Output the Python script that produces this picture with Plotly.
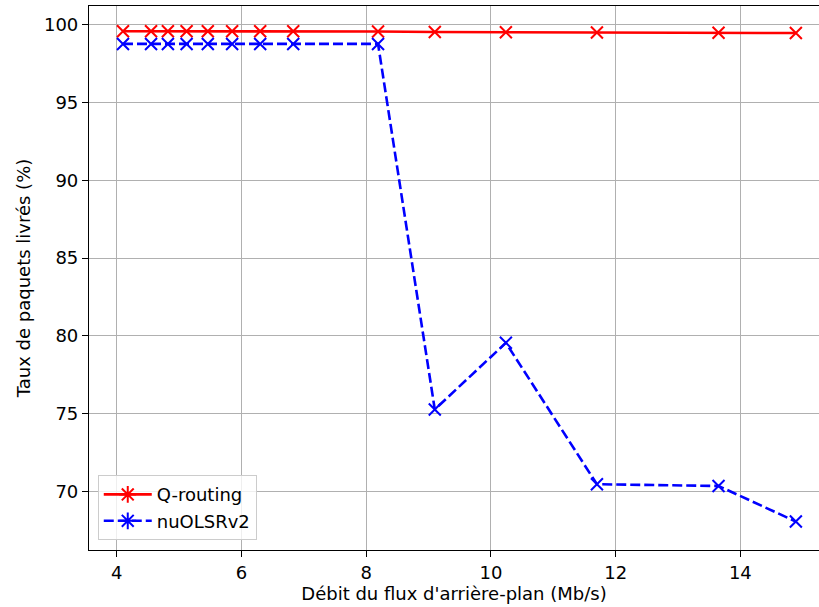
import plotly.graph_objects as go

debit = [4.10, 4.55, 4.82, 5.12, 5.46, 5.85, 6.30, 6.83, 8.19, 9.10, 10.24, 11.70, 13.65, 14.89]
q_routing = [99.60, 99.60, 99.60, 99.60, 99.60, 99.59, 99.59, 99.59, 99.58, 99.55, 99.53, 99.52, 99.50, 99.48]
nuolsrv2 = [98.78, 98.78, 98.78, 98.78, 98.78, 98.78, 98.78, 98.78, 98.78, 75.26, 79.55, 70.45, 70.34, 68.05]
x_ticks = [4, 6, 8, 10, 12, 14]
y_ticks = [70, 75, 80, 85, 90, 95, 100]

FONT = "DejaVu Sans"
FS = 18
fig = go.Figure()

fig.add_trace(go.Scatter(x=debit, y=q_routing, mode="lines+markers", name="Q-routing",
                         showlegend=False,
                         line=dict(color="#ff0000", width=2.6),
                         marker=dict(symbol="x-thin-open", size=12, line=dict(color="#ff0000", width=2))))
fig.add_trace(go.Scatter(x=debit, y=nuolsrv2, mode="lines+markers", name="nuOLSRv2",
                         showlegend=False,
                         line=dict(color="#0000ff", width=2.6, dash="10px,4px"),
                         marker=dict(symbol="x-thin-open", size=12, line=dict(color="#0000ff", width=2))))
# legend entries (asterisk markers as in the reference legend)
fig.add_trace(go.Scatter(x=[None], y=[None], mode="lines+markers", name="Q-routing",
                         line=dict(color="#ff0000", width=2.6),
                         marker=dict(symbol="asterisk-open", size=14, line=dict(color="#ff0000", width=2))))
fig.add_trace(go.Scatter(x=[None], y=[None], mode="lines+markers", name="nuOLSRv2",
                         line=dict(color="#0000ff", width=2.6, dash="10px,4px"),
                         marker=dict(symbol="asterisk-open", size=14, line=dict(color="#0000ff", width=2))))

fig.update_layout(
    width=819, height=607,
    margin=dict(l=89, r=0, t=6, b=57),
    paper_bgcolor="white", plot_bgcolor="white",
    font=dict(family=FONT, size=FS, color="black"),
    showlegend=True,
    legend=dict(x=0.012, y=0.018, xanchor="left", yanchor="bottom",
                bgcolor="rgba(255,255,255,0.8)", bordercolor="#cccccc", borderwidth=1,
                font=dict(family=FONT, size=FS, color="black"),
                tracegroupgap=0, itemwidth=48),
)
fig.update_xaxes(range=[3.555, 15.261], tickvals=x_ticks, ticktext=[str(v) for v in x_ticks],
                 showgrid=True, gridcolor="#b0b0b0", gridwidth=1.2,
                 showline=True, linecolor="black", linewidth=1.2, mirror=True,
                 ticks="outside", ticklen=6, tickcolor="black", zeroline=False,
                 tickfont=dict(family=FONT, size=FS),
                 title=dict(text="Débit du flux d'arrière-plan (Mb/s)", standoff=4,
                            font=dict(family=FONT, size=FS)))
fig.update_yaxes(range=[66.22, 101.22], tickvals=y_ticks, ticktext=[str(v) for v in y_ticks],
                 showgrid=True, gridcolor="#b0b0b0", gridwidth=1.2,
                 showline=True, linecolor="black", linewidth=1.2, mirror=False,
                 ticks="outside", ticklen=6, tickcolor="black", zeroline=False,
                 tickfont=dict(family=FONT, size=FS),
                 title=dict(text="Taux de paquets livrés (%)", standoff=8,
                            font=dict(family=FONT, size=FS)))

fig.write_html("out.html", config={"displayModeBar": False},
               post_script="document.body.style.margin='0';document.body.style.padding='0';document.body.style.overflow='hidden';")
